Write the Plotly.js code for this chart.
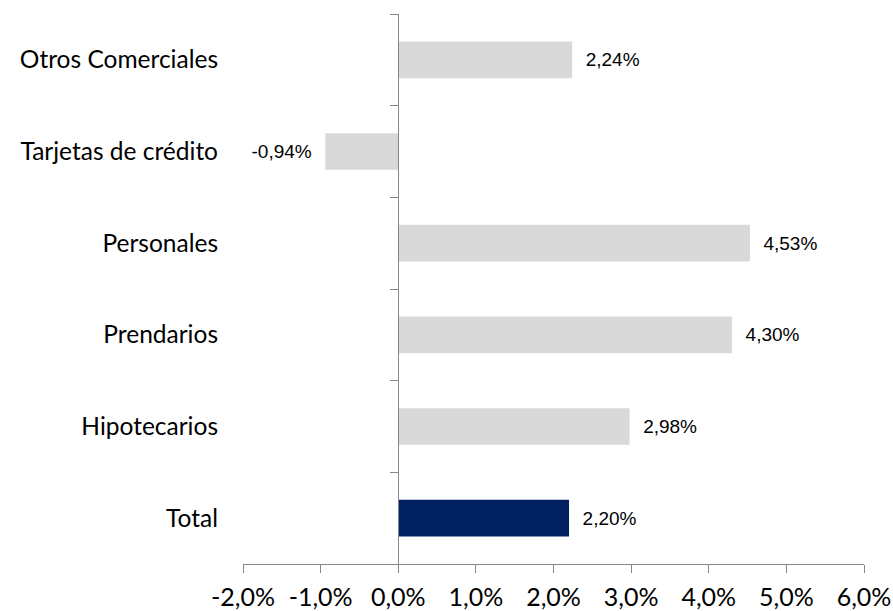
<!DOCTYPE html>
<html>
<head>
<meta charset="utf-8">
<script src="https://cdn.plot.ly/plotly-3.0.1.min.js"></script>
<style>html,body{margin:0;padding:0;background:#fff;}#chart{width:893px;height:611px;}</style>
</head>
<body>
<div id="chart"></div>
<script>
const categories = ["Otros Comerciales", "Tarjetas de crédito", "Personales", "Prendarios", "Hipotecarios", "Total"];
const values = [2.24, -0.94, 4.53, 4.30, 2.98, 2.20];
const labels = ["2,24%", "-0,94%", "4,53%", "4,30%", "2,98%", "2,20%"];
const barColors = ["#d9d9d9", "#d9d9d9", "#d9d9d9", "#d9d9d9", "#d9d9d9", "#002060"];
const xTickVals = [-2, -1, 0, 1, 2, 3, 4, 5, 6];
const xTickText = ["-2,0%", "-1,0%", "0,0%", "1,0%", "2,0%", "3,0%", "4,0%", "5,0%", "6,0%"];

const xMin = -2, xMax = 6;
const pad = "\u00a0\u00a0";
const templates = values.map(v => v >= 0 ? pad + "%{text}" : "%{text}" + pad);

const traces = [
  {
    type: "bar",
    orientation: "h",
    y: categories,
    x: values,
    marker: {color: barColors},
    text: labels,
    texttemplate: templates,
    textposition: "outside",
    cliponaxis: false,
    textfont: {family: "Liberation Sans, Arial, sans-serif", size: 19, color: "#000"},
    hoverinfo: "skip"
  },
  {
    type: "bar",
    orientation: "h",
    y: categories,
    x: values,
    yaxis: "y2",
    opacity: 0,
    hoverinfo: "skip",
    showlegend: false
  }
];

const layout = {
  width: 893,
  height: 611,
  margin: {l: 243, r: 29, t: 14, b: 47},
  paper_bgcolor: "#fff",
  plot_bgcolor: "#fff",
  showlegend: false,
  bargap: 0.6,
  separators: ",.",
  xaxis: {
    range: [xMin, xMax],
    tickvals: xTickVals,
    ticktext: xTickText,
    showgrid: false,
    zeroline: false,
    showline: true,
    linecolor: "#868686",
    linewidth: 1,
    ticks: "outside",
    ticklen: 8,
    tickcolor: "#868686",
    tickfont: {family: "Lato, Noto Sans, sans-serif", size: 25, color: "#000"},
    ticklabelstandoff: 3,
    fixedrange: true
  },
  yaxis: {
    type: "category",
    categoryorder: "array",
    categoryarray: categories,
    autorange: "reversed",
    showgrid: false,
    zeroline: false,
    showline: false,
    ticks: "",
    tickfont: {family: "Lato, Noto Sans, sans-serif", size: 24.5, color: "#000"},
    ticklabelstandoff: 24,
    fixedrange: true
  },
  yaxis2: {
    type: "category",
    categoryorder: "array",
    categoryarray: categories,
    autorange: "reversed",
    overlaying: "y",
    anchor: "free",
    position: (0 - xMin) / (xMax - xMin),
    side: "left",
    showgrid: false,
    zeroline: false,
    showline: true,
    linecolor: "#868686",
    linewidth: 1,
    ticks: "outside",
    tickson: "boundaries",
    ticklen: 8,
    tickcolor: "#868686",
    showticklabels: false,
    fixedrange: true
  }
};

Plotly.newPlot("chart", traces, layout, {displayModeBar: false, staticPlot: true});
</script>
</body>
</html>
